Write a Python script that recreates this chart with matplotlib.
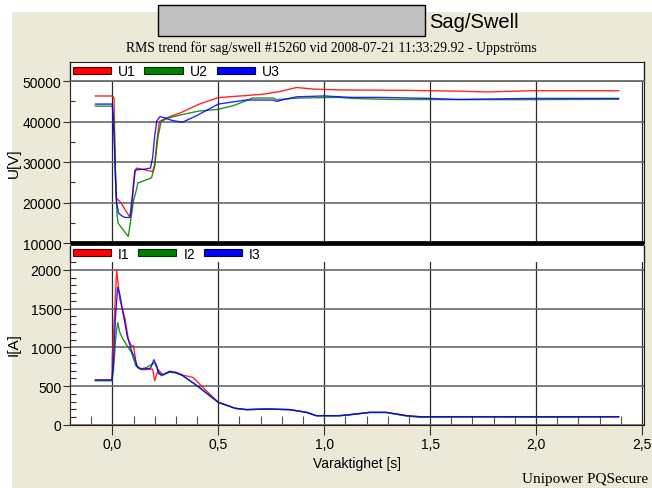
import matplotlib
matplotlib.use("Agg")
import matplotlib.pyplot as plt
import matplotlib.patches as mpatches
from matplotlib.ticker import MultipleLocator, FixedLocator, FuncFormatter

# ---------------- data ----------------
t_u1 = [-0.08, 0.0, 0.008, 0.013, 0.018, 0.04, 0.065, 0.083, 0.09, 0.1, 0.108, 0.115, 0.15, 0.19, 0.2, 0.21, 0.222, 0.26, 0.32, 0.41, 0.5, 0.63, 0.72, 0.79, 0.87, 0.95, 1.07, 1.38, 1.63, 1.77, 1.98, 2.39]
u1 = [46300, 46300, 45800, 30000, 21100, 20000, 17800, 16400, 18000, 24000, 28000, 28500, 28100, 27600, 29500, 35000, 40000, 41000, 42100, 44300, 45900, 46400, 46800, 47400, 48400, 48000, 47800, 47700, 47500, 47300, 47600, 47600]

t_u2 = [-0.08, 0.0, 0.008, 0.015, 0.022, 0.027, 0.05, 0.075, 0.085, 0.1, 0.114, 0.12, 0.15, 0.185, 0.2, 0.215, 0.23, 0.26, 0.32, 0.41, 0.5, 0.57, 0.63, 0.66, 0.76, 0.775, 0.885, 1.07, 1.13, 1.32, 1.61, 2.0, 2.39]
u2 = [43800, 43800, 40000, 25000, 17000, 14900, 13300, 11600, 15000, 20500, 23200, 24800, 25400, 26100, 29000, 36000, 40000, 40800, 41600, 42600, 43000, 43900, 45100, 45800, 45800, 45400, 45800, 45950, 45700, 45450, 45400, 45400, 45500]

t_u3 = [-0.08, 0.0, 0.008, 0.02, 0.03, 0.045, 0.06, 0.083, 0.095, 0.106, 0.115, 0.15, 0.18, 0.19, 0.2, 0.21, 0.225, 0.24, 0.28, 0.33, 0.4, 0.5, 0.63, 0.76, 0.775, 0.8, 0.87, 1.0, 1.13, 1.26, 1.5, 1.63, 1.98, 2.39]
u3 = [44300, 44300, 36000, 19900, 17300, 16700, 16300, 16300, 22000, 27700, 28100, 28200, 28500, 31000, 36500, 40200, 41200, 41000, 40300, 39800, 41500, 44300, 45300, 45300, 44950, 45300, 46100, 46300, 45950, 45950, 45700, 45450, 45700, 45700]

t_i1 = [-0.08, -0.002, 0.0, 0.01, 0.02, 0.035, 0.06, 0.075, 0.09, 0.1, 0.114, 0.14, 0.19, 0.2, 0.216, 0.24, 0.27, 0.3, 0.33, 0.38, 0.42, 0.5, 0.58, 0.633, 0.727, 0.837, 0.916, 0.963, 1.07, 1.12, 1.215, 1.293, 1.39, 1.45, 1.7, 2.0, 2.39]
i1 = [580, 580, 890, 1400, 2000, 1620, 1365, 1107, 1021, 1020, 764, 712, 720, 570, 712, 644, 691, 680, 644, 614, 506, 292, 215, 198, 206, 198, 163, 120, 120, 133, 163, 163, 120, 107, 107, 107, 107]

t_i2 = [-0.08, -0.002, 0.005, 0.015, 0.025, 0.035, 0.05, 0.07, 0.09, 0.11, 0.13, 0.16, 0.19, 0.2, 0.215, 0.23, 0.27, 0.3, 0.33, 0.4, 0.5, 0.58, 0.633, 0.727, 0.837, 0.916, 0.963, 1.07, 1.12, 1.215, 1.293, 1.39, 1.45, 1.7, 2.0, 2.39]
i2 = [570, 570, 700, 1100, 1320, 1194, 1107, 1021, 936, 764, 720, 740, 785, 800, 700, 635, 680, 670, 640, 506, 292, 215, 198, 206, 198, 163, 120, 118, 130, 160, 160, 115, 100, 105, 100, 105]

t_i3 = [-0.08, -0.002, 0.005, 0.015, 0.025, 0.035, 0.05, 0.07, 0.09, 0.1, 0.12, 0.14, 0.18, 0.196, 0.21, 0.22, 0.24, 0.27, 0.3, 0.33, 0.4, 0.5, 0.58, 0.633, 0.727, 0.837, 0.916, 0.963, 1.07, 1.12, 1.215, 1.293, 1.39, 1.45, 1.7, 2.0, 2.39]
i3 = [580, 580, 800, 1400, 1773, 1687, 1450, 1150, 957, 900, 740, 720, 730, 841, 760, 657, 650, 690, 675, 640, 506, 292, 215, 198, 206, 198, 163, 120, 120, 133, 163, 163, 120, 107, 107, 107, 107]

u_labels = ["U1", "U2", "U3"]
i_labels = ["I1", "I2", "I3"]
colors = ["#FF0000", "#008000", "#0000FF"]
edge_colors = ["#500000", "#003000", "#000050"]
x_major = [0.0, 0.5, 1.0, 1.5, 2.0, 2.5]

title_main = "Sag/Swell"
subtitle = "RMS trend för sag/swell #15260 vid 2008-07-21 11:33:29.92 - Uppströms"
x_label = "Varaktighet [s]"
footer = "Unipower PQSecure"

# ---------------- figure ----------------
W, H = 652, 489
fig = plt.figure(figsize=(W / 100, H / 100), dpi=100, facecolor="white")
plt.rcParams["font.family"] = ["Liberation Sans", "DejaVu Sans"]

BEIGE = "#ECE9D8"
fig.add_artist(mpatches.Rectangle((12 / W, 0), 1, 1 - 13 / H, transform=fig.transFigure,
                                  facecolor=BEIGE, edgecolor="none", zorder=-10))
# grey title box
fig.add_artist(mpatches.Rectangle((158 / W, 1 - 37 / H), (425 - 158) / W, (37 - 6) / H,
                                  transform=fig.transFigure, facecolor="#C0C0C0",
                                  edgecolor="black", lw=1.0, zorder=1))
fig.text(429 / W, 1 - 22 / H, title_main, fontsize=14.5, ha="left", va="center",
         family=["Liberation Sans", "DejaVu Sans"])
fig.text(331 / W, 1 - 48 / H, subtitle, fontsize=9.9, ha="center", va="center",
         family=["Liberation Serif", "DejaVu Serif"])
fig.text(648 / W, 1 - 480 / H, footer, fontsize=11, ha="right", va="center",
         family=["Liberation Serif", "DejaVu Serif"])

L, R = 70, 644


def ax_px(top, bottom):
    return fig.add_axes([L / W, 1 - bottom / H, (R - L) / W, (bottom - top) / H])


XL = (-0.2, 2.51)
GRID_H = "#6a6a6a"
GRID_V = "#2a2a2a"
FS = 10


def style_band(ax, top_spine):
    ax.set_xlim(0, 1)
    ax.set_ylim(0, 1)
    ax.set_xticks([])
    ax.set_yticks([])
    ax.set_facecolor("white")
    for s in ["left", "right"]:
        ax.spines[s].set_color("#202020")
        ax.spines[s].set_linewidth(1.0)
    ax.spines["top"].set_visible(top_spine)
    ax.spines["top"].set_color("#202020")
    ax.spines["bottom"].set_visible(False)


def add_legend(ax, labels):
    handles = [mpatches.Patch(facecolor=c, edgecolor=e, lw=0.8, label=l)
               for c, e, l in zip(colors, edge_colors, labels)]
    ax.legend(handles=handles, loc="center left", bbox_to_anchor=(0.0, 0.5), ncol=3,
              frameon=False, fontsize=FS, handlelength=2.75, handleheight=0.38,
              handletextpad=0.5, columnspacing=0.65, borderpad=0, borderaxespad=0.18)


# ----- upper legend band -----
band_u = ax_px(63, 82)
style_band(band_u, True)
add_legend(band_u, u_labels)

# ----- upper data axes -----
ax_u = ax_px(82, 244)
ax_u.set_xlim(*XL)
ax_u.set_ylim(10000, 50000)
for t, v, c in zip([t_u1, t_u2, t_u3], [u1, u2, u3], colors):
    ax_u.plot(t, v, color=c, lw=1.0, alpha=0.85, zorder=3)
ax_u.yaxis.set_major_locator(MultipleLocator(10000))
ax_u.yaxis.set_minor_locator(MultipleLocator(5000))
ax_u.xaxis.set_major_locator(FixedLocator(x_major))
ax_u.tick_params(axis="x", which="both", bottom=False, labelbottom=False)
ax_u.tick_params(axis="y", which="major", direction="out", length=5, width=0.8,
                 color="#303030", labelsize=FS, pad=1.2)
ax_u.tick_params(axis="y", which="minor", direction="in", length=3.5, width=0.8, color="#303030")
ax_u.grid(True, axis="y", which="major", color=GRID_H, lw=1.2, zorder=1)
ax_u.grid(True, axis="x", which="major", color=GRID_V, lw=0.9, zorder=1)
ax_u.spines["top"].set_color(GRID_H)
ax_u.spines["top"].set_linewidth(1.3)
ax_u.spines["left"].set_color("#202020")
ax_u.spines["right"].set_color("#202020")
ax_u.spines["bottom"].set_color("black")
ax_u.spines["bottom"].set_linewidth(3.4)
ax_u.spines["bottom"].set_capstyle("butt")
ax_u.spines["bottom"].set_zorder(5)
ax_u.set_ylabel("U[V]", fontsize=11)
ax_u.yaxis.set_label_coords((21 - L) / (R - L), 0.5)

# ----- lower legend band -----
band_i = ax_px(246.5, 263)
style_band(band_i, False)
add_legend(band_i, i_labels)

# ----- lower data axes -----
ax_i = ax_px(263, 426)
ax_i.set_xlim(*XL)
ax_i.set_ylim(0, 2100)
for t, v, c in zip([t_i1, t_i2, t_i3], [i1, i2, i3], colors):
    ax_i.plot(t, v, color=c, lw=1.0, alpha=0.85, zorder=3)
ax_i.yaxis.set_major_locator(MultipleLocator(500))
ax_i.yaxis.set_minor_locator(MultipleLocator(100))
ax_i.xaxis.set_major_locator(FixedLocator(x_major))
ax_i.xaxis.set_minor_locator(MultipleLocator(0.1))
ax_i.xaxis.set_major_formatter(FuncFormatter(lambda v, p: f"{v:.1f}".replace(".", ",")))
ax_i.tick_params(axis="x", which="major", direction="out", length=7, width=0.8,
                 color="#303030", labelsize=FS, pad=2)
ax_i.tick_params(axis="x", which="minor", direction="in", length=6.5, width=0.8, color="#505050")
ax_i.tick_params(axis="y", which="major", direction="out", length=5, width=0.8,
                 color="#303030", labelsize=FS, pad=1.2)
ax_i.tick_params(axis="y", which="minor", direction="in", length=4, width=0.8, color="#303030")
ax_i.grid(True, axis="y", which="major", color=GRID_H, lw=1.2, zorder=1)
ax_i.grid(True, axis="x", which="major", color=GRID_V, lw=0.9, zorder=1)
ax_i.spines["top"].set_visible(False)
for s in ["left", "right", "bottom"]:
    ax_i.spines[s].set_color("#202020")
ax_i.set_ylabel("I[A]", fontsize=11)
ax_i.yaxis.set_label_coords((21 - L) / (R - L), 0.5)
ax_i.set_xlabel(x_label, fontsize=FS, labelpad=3)

fig.savefig("out.png", dpi=100, facecolor=fig.get_facecolor())
